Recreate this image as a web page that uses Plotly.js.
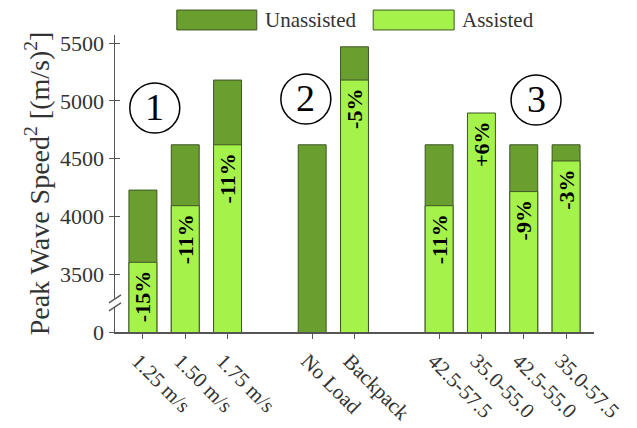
<!DOCTYPE html>
<html>
<head>
<meta charset="utf-8">
<script src="https://cdn.plot.ly/plotly-3.0.1.min.js"></script>
<style>html,body{margin:0;padding:0;background:#fff;}#chart{width:637px;height:428px;}</style>
</head>
<body>
<div id="chart"></div>
<script>
// Category positions (gaps between groups) and labels
const xPos = [0, 1, 2, 4, 5, 7, 8, 9, 10];
const categories = ["1.25 m/s", "1.50 m/s", "1.75 m/s", "No Load", "Backpack", "42.5-57.5", "35.0-55.0", "42.5-55.0", "35.0-57.5"];
// Peak wave speed squared [(m/s)^2]
const unassisted = [4228, 4620, 5180, 4620, 5468, 4620, 4620, 4620, 4620];
const assisted   = [3603, 4093, 4620, null, 5180, 4093, 4895, 4215, 4480];
const pctLabels  = ["-15%", "-11%", "-11%", "", "-5%", "-11%", "+6%", "-9%", "-3%"];
const yTickVals  = [3000, 3500, 4000, 4500, 5000, 5500];
const yTickText  = ["0", "3500", "4000", "4500", "5000", "5500"];
const groupMarks = [{label: "1", x: 0.28, y: 4938}, {label: "2", x: 3.85, y: 5016}, {label: "3", x: 9.29, y: 5007}];

const darkG = '#6a9e2f';
const lightG = '#a5f34a';
const edge = '#3d5626';
const serif = 'Liberation Serif, Times New Roman, serif';
const txtCol = '#333';

const traces = [
  {type: 'bar', x: xPos, y: unassisted, width: 0.66, name: 'Unassisted',
   marker: {color: darkG, line: {color: edge, width: 1}}, hoverinfo: 'skip'},
  {type: 'bar', x: xPos, y: assisted, width: 0.66, name: 'Assisted',
   marker: {color: lightG, line: {color: edge, width: 1}},
   text: pctLabels, texttemplate: '%{text}\u00a0', textposition: 'inside', insidetextanchor: 'end', textangle: -90,
   constraintext: 'none',
   insidetextfont: {family: serif, size: 22, color: '#000', weight: 'bold'}, hoverinfo: 'skip'},
  {type: 'scatter', x: [0], y: [3000], yaxis: 'y2', mode: 'none', showlegend: false, hoverinfo: 'skip'}
];

const shapes = [];
const annotations = [];
groupMarks.forEach(g => {
  shapes.push({type: 'circle', xref: 'x', yref: 'y', xsizemode: 'pixel', ysizemode: 'pixel',
    xanchor: g.x, yanchor: g.y, x0: -25, x1: 25, y0: -25, y1: 25,
    line: {color: '#000', width: 1.5}, fillcolor: 'rgba(0,0,0,0)'});
  annotations.push({xref: 'x', yref: 'y', x: g.x, y: g.y, text: g.label, showarrow: false,
    xanchor: 'center', yanchor: 'middle', yshift: 1, font: {family: serif, size: 38, color: '#000'}});
});
// axis break
shapes.push({type: 'rect', xref: 'paper', yref: 'paper', xsizemode: 'pixel', xanchor: 0,
  x0: -3, x1: 3, y0: 0.085, y1: 0.112, line: {width: 0}, fillcolor: '#fff', layer: 'above'});
shapes.push({type: 'line', xref: 'paper', yref: 'paper', xsizemode: 'pixel', xanchor: 0,
  x0: -6, x1: 6, y0: 0.098, y1: 0.125, line: {color: '#555', width: 1.3}, layer: 'above'});
shapes.push({type: 'line', xref: 'paper', yref: 'paper', xsizemode: 'pixel', xanchor: 0,
  x0: -6, x1: 6, y0: 0.071, y1: 0.098, line: {color: '#555', width: 1.3}, layer: 'above'});
// legend
const legendItems = [{name: 'Unassisted', color: darkG, x0: 0.129, x1: 0.296, tx: 0.309},
                     {name: 'Assisted', color: lightG, x0: 0.539, x1: 0.708, tx: 0.720}];
legendItems.forEach(l => {
  shapes.push({type: 'rect', xref: 'paper', yref: 'paper', x0: l.x0, x1: l.x1, y0: 1.017, y1: 1.084,
    fillcolor: l.color, line: {color: edge, width: 1}});
  annotations.push({xref: 'paper', yref: 'paper', x: l.tx, y: 1.050, text: l.name, showarrow: false,
    xanchor: 'left', yanchor: 'middle', font: {family: serif, size: 21, color: txtCol}});
});

const layout = {
  width: 637, height: 428,
  margin: {l: 115, r: 43, t: 35, b: 96},
  paper_bgcolor: '#fff', plot_bgcolor: '#fff',
  barmode: 'overlay', showlegend: false,
  font: {family: serif, color: txtCol, size: 22},
  xaxis: {range: [-0.66, 10.66], tickvals: xPos, ticktext: categories, tickangle: 45,
    showline: true, linecolor: '#555', linewidth: 1.5, ticks: 'outside', ticklen: 5, tickcolor: '#555',
    ticklabelstandoff: 2, ticklabelshift: -5,
    showgrid: false, zeroline: false, tickfont: {family: serif, size: 21, color: txtCol}, automargin: false},
  yaxis: {range: [3000, 5570], tickvals: yTickVals, ticktext: yTickText,
    showline: true, linecolor: '#555', linewidth: 1.5, ticks: 'outside', ticklen: 5, tickcolor: '#555',
    showgrid: false, zeroline: false, tickfont: {family: serif, size: 22, color: txtCol},
    title: {text: 'Peak Wave Speed<sup>2</sup> [(m/s)<sup>2</sup>]', font: {family: serif, size: 28, color: txtCol}, standoff: 2},
    automargin: false},
  yaxis2: {range: [3000, 5570], overlaying: 'y', side: 'left', tickvals: yTickVals, showticklabels: false,
    ticks: 'inside', ticklen: 5, tickcolor: '#555', showline: false, showgrid: false, zeroline: false},
  shapes: shapes,
  annotations: annotations
};

Plotly.newPlot('chart', traces, layout, {staticPlot: true});
</script>
</body>
</html>
